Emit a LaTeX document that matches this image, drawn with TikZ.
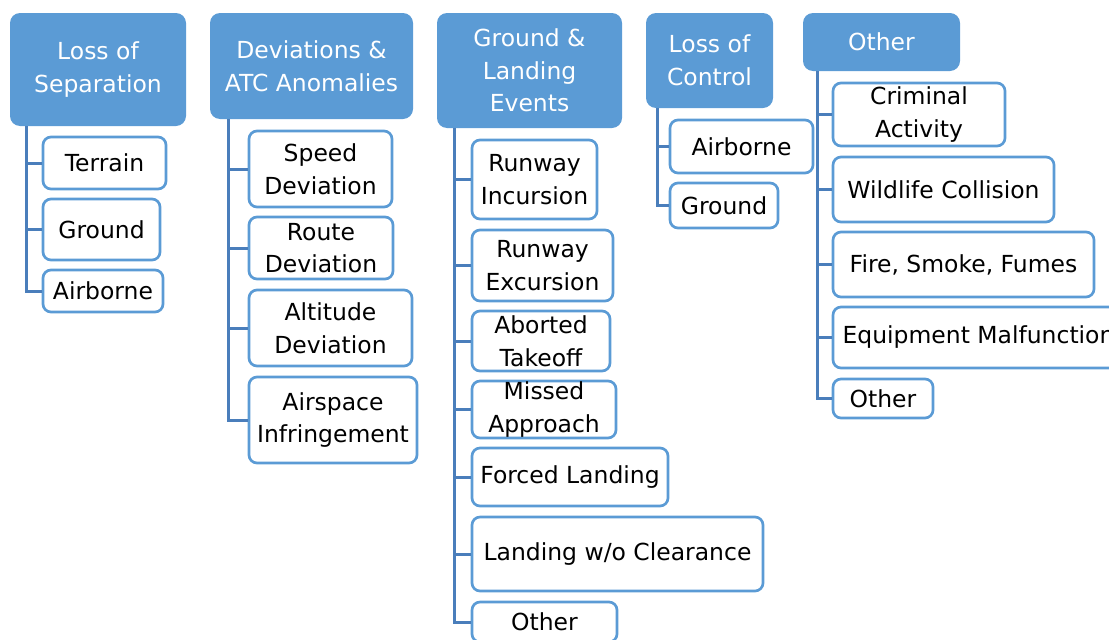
\documentclass[tikz,border=0pt]{standalone}
\usepackage{fontspec}
\setmainfont{DejaVu Sans}

\definecolor{hdrblue}{HTML}{5B9BD5}
\definecolor{linkblue}{HTML}{4A7EBB}

\tikzset{
  header/.style={fill=hdrblue, rounded corners=7.5pt, text=white, align=center, inner sep=0pt},
  item/.style={draw=hdrblue, line width=2pt, fill=white, rounded corners=6pt, align=center, inner sep=0pt},
  link/.style={draw=linkblue, line width=2.25pt},
}

% a box given by its corners (in pixels of the sketch)
\newcommand\boxat[7]{%
  \node[#6, minimum width={(#4-#2)*0.75pt}, minimum height={(#5-#3)*0.75pt}]
    (#1) at ({(#2+#4)/2},{(#3+#5)/2}) {#7};}

\begin{document}
\begin{tikzpicture}[x=0.75pt, y=-0.75pt, font=\fontsize{17.6}{24.5}\selectfont]
        \useasboundingbox (0,0) rectangle (1109,639);

        % Category headers
        \boxat{los}{10}{13}{186}{126}{header}{Loss of\\Separation}
        \boxat{dev}{210}{13}{413}{119}{header}{Deviations \&\\ATC Anomalies}
        \boxat{gnd}{437}{13}{622}{128}{header}{Ground \&\\Landing\\Events}
        \boxat{loc}{646}{13}{773}{108}{header}{Loss of\\Control}
        \boxat{oth}{803}{13}{960}{71}{header}{Other}

        % Loss of separation
        \boxat{los1}{43}{137}{166}{189}{item}{Terrain}
        \boxat{los2}{43}{199}{160}{260}{item}{Ground}
        \boxat{los3}{43}{270}{163}{312}{item}{Airborne}

        % Deviations
        \boxat{dev1}{249}{131}{392}{207}{item}{Speed\\Deviation}
        \boxat{dev2}{249}{217}{393}{279}{item}{Route\\Deviation}
        \boxat{dev3}{249}{290}{412}{366}{item}{Altitude\\Deviation}
        \boxat{dev4}{249}{377}{417}{463}{item}{Airspace\\Infringement}

        % Ground and landing
        \boxat{gnd1}{472}{140}{597}{219}{item}{Runway\\Incursion}
        \boxat{gnd2}{472}{230}{613}{301}{item}{Runway\\Excursion}
        \boxat{gnd3}{472}{311}{610}{371}{item}{Aborted\\Takeoff}
        \boxat{gnd4}{472}{381}{616}{438}{item}{Missed\\Approach}
        \boxat{gnd5}{472}{448}{668}{506}{item}{Forced Landing}
        \boxat{gnd6}{472}{517}{763}{591}{item}{Landing w/o Clearance}
        \boxat{gnd7}{472}{602}{617}{642}{item}{Other}

        % Loss of control
        \boxat{loc1}{670}{120}{813}{173}{item}{Airborne}
        \boxat{loc2}{670}{183}{778}{228}{item}{Ground}

        % Other
        \boxat{oth1}{833}{83}{1005}{146}{item}{Criminal\\Activity}
        \boxat{oth2}{833}{157}{1054}{222}{item}{Wildlife Collision}
        \boxat{oth3}{833}{232}{1094}{297}{item}{Fire, Smoke, Fumes}
        \boxat{oth4}{833}{307}{1124}{368}{item}{Equipment Malfunction}
        \boxat{oth5}{833}{379}{933}{418}{item}{Other}

        % Trunks hanging from the headers
        \coordinate (losT) at (26,126);
        \coordinate (devT) at (228,119);
        \coordinate (gndT) at (454,128);
        \coordinate (locT) at (657,108);
        \coordinate (othT) at (817,71);

        \draw[link] (losT) |- (los3.west);
        \foreach \n in {los1,los2}
          \draw[link] (losT |- \n.west) -- (\n.west);

        \draw[link] (devT) |- (dev4.west);
        \foreach \n in {dev1,dev2,dev3}
          \draw[link] (devT |- \n.west) -- (\n.west);

        \draw[link] (gndT) |- (gnd7.west);
        \foreach \n in {gnd1,gnd2,gnd3,gnd4,gnd5,gnd6}
          \draw[link] (gndT |- \n.west) -- (\n.west);

        \draw[link] (locT) |- (loc2.west);
        \draw[link] (locT |- loc1.west) -- (loc1.west);

        \draw[link] (othT) |- (oth5.west);
        \foreach \n in {oth1,oth2,oth3,oth4}
          \draw[link] (othT |- \n.west) -- (\n.west);
      \end{tikzpicture}
\end{document}
